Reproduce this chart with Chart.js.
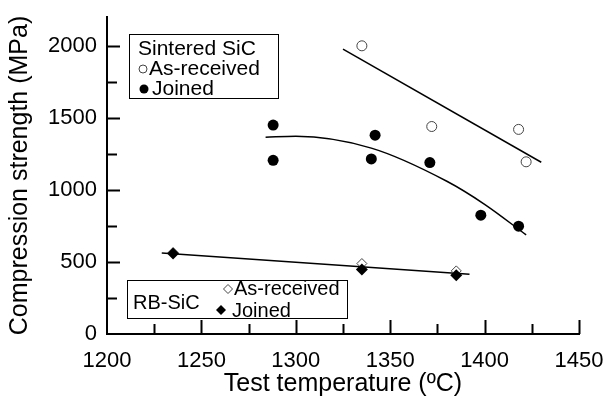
<!DOCTYPE html>
<html>
<head>
<meta charset="utf-8">
<script src="https://cdn.jsdelivr.net/npm/chart.js@4.4.1/dist/chart.umd.min.js"></script>
<style>
  html, body { margin: 0; padding: 0; background: #fff; }
  canvas { display: block; }
</style>
</head>
<body>
<canvas id="chart" width="606" height="399"></canvas>
<script>
// Sintered SiC
const sinteredArTemp = [1335, 1372, 1418, 1422];
const sinteredArStrength = [2000, 1440, 1420, 1195];
const sinteredJnTemp = [1288, 1288, 1340, 1342, 1371, 1398, 1418];
const sinteredJnStrength = [1205, 1450, 1215, 1380, 1190, 825, 748];

// RB-SiC
const rbTemp = [1235, 1335, 1385];
const rbArStrength = [565, 489, 438];
const rbJnStrength = [558, 448, 408];

// fitted trend lines
const sinteredArFitTemp = [1325, 1430];
const sinteredArFit = [1977, 1192];
const sinteredJnFitTemp = [1284, 1300, 1340, 1380, 1400, 1422];
const sinteredJnFit = [1366, 1372, 1290, 1060, 900, 688];
const rbFitTemp = [1229, 1392];
const rbFit = [563, 415];

const xTicks = [1200, 1250, 1300, 1350, 1400, 1450];
const yTicks = [0, 500, 1000, 1500, 2000];

const FONT = "'Liberation Sans', Arial, sans-serif";

function pts(xs, ys) {
    return xs.map((v, i) => ({x: v, y: ys[i]}));
}

// ticks pointing into the plot, majors longer than minors
const insideTicks = {
    id: 'insideTicks',
    afterDraw(chart) {
        const {ctx, scales: {x, y}} = chart;
        ctx.save();
        ctx.strokeStyle = '#000';
        ctx.lineWidth = 2;
        ctx.beginPath();
        for (let v = 1225; v <= 1450; v += 25) {
            const px = Math.round(x.getPixelForValue(v)) + 0.5;
            const len = xTicks.includes(v) ? 14 : 10;
            ctx.moveTo(px, y.bottom);
            ctx.lineTo(px, y.bottom - len);
        }
        for (let v = 250; v <= 2000; v += 250) {
            const py = Math.round(y.getPixelForValue(v)) + 0.5;
            const len = yTicks.includes(v) ? 13 : 10;
            ctx.moveTo(x.left, py);
            ctx.lineTo(x.left + len, py);
        }
        ctx.stroke();
        ctx.restore();
    }
};

// the two boxed legends of the original figure
const boxLegends = {
    id: 'boxLegends',
    afterDraw(chart) {
        const ctx = chart.ctx;
        ctx.save();
        ctx.lineWidth = 1;
        ctx.strokeStyle = '#000';
        ctx.fillStyle = '#000';
        ctx.textBaseline = 'middle';
        ctx.textAlign = 'left';

        // Sintered SiC
        ctx.strokeRect(129.5, 34.5, 149, 64);
        ctx.font = "21px " + FONT;
        ctx.fillText('Sintered SiC', 138, 49);
        ctx.fillText('As-received', 149, 69);
        ctx.fillText('Joined', 152, 89);
        ctx.beginPath();
        ctx.arc(143, 69, 4, 0, Math.PI * 2);
        ctx.fillStyle = '#fff';
        ctx.fill();
        ctx.strokeStyle = '#444';
        ctx.stroke();
        ctx.beginPath();
        ctx.arc(144, 89, 4.5, 0, Math.PI * 2);
        ctx.fillStyle = '#000';
        ctx.fill();

        // RB-SiC
        ctx.strokeStyle = '#000';
        ctx.strokeRect(127.5, 280.5, 220, 38);
        ctx.font = "20px " + FONT;
        ctx.fillStyle = '#000';
        ctx.fillText('RB-SiC', 133, 303);
        ctx.fillText('As-received', 234, 289);
        ctx.fillText('Joined', 232, 311);
        ctx.beginPath();
        ctx.moveTo(228, 284.5); ctx.lineTo(232.5, 289); ctx.lineTo(228, 293.5); ctx.lineTo(223.5, 289);
        ctx.closePath();
        ctx.fillStyle = '#fff';
        ctx.fill();
        ctx.strokeStyle = '#444';
        ctx.stroke();
        ctx.beginPath();
        ctx.moveTo(221, 305); ctx.lineTo(226, 310); ctx.lineTo(221, 315); ctx.lineTo(216, 310);
        ctx.closePath();
        ctx.fillStyle = '#000';
        ctx.fill();
        ctx.restore();
    }
};

const ctx = document.getElementById('chart');
new Chart(ctx, {
    type: 'scatter',
    data: {
        datasets: [
            {
                data: pts(sinteredJnTemp, sinteredJnStrength),
                pointStyle: 'circle', pointRadius: 5.5,
                backgroundColor: '#000', borderColor: '#000', borderWidth: 0
            },
            {
                data: pts(sinteredArTemp, sinteredArStrength),
                pointStyle: 'circle', pointRadius: 5,
                backgroundColor: '#fff', borderColor: '#444', borderWidth: 1
            },
            {
                data: pts(rbTemp, rbJnStrength),
                pointStyle: 'rectRot', pointRadius: 6,
                backgroundColor: '#000', borderColor: '#000', borderWidth: 0
            },
            {
                data: pts(rbTemp, rbArStrength),
                pointStyle: 'rectRot', pointRadius: 5,
                backgroundColor: '#fff', borderColor: '#444', borderWidth: 1
            },
            {
                data: pts(sinteredArFitTemp, sinteredArFit),
                showLine: true, pointRadius: 0, borderColor: '#000', borderWidth: 1.5
            },
            {
                data: pts(sinteredJnFitTemp, sinteredJnFit),
                showLine: true, pointRadius: 0, borderColor: '#000', borderWidth: 1.5,
                cubicInterpolationMode: 'monotone'
            },
            {
                data: pts(rbFitTemp, rbFit),
                showLine: true, pointRadius: 0, borderColor: '#000', borderWidth: 1.5
            }
        ]
    },
    options: {
        responsive: false,
        animation: false,
        layout: { padding: { top: 17, right: 27, left: 0, bottom: 0 } },
        plugins: { legend: { display: false }, tooltip: { enabled: false } },
        scales: {
            x: {
                type: 'linear', min: 1200, max: 1450,
                afterFit(scale) {
                    scale.height = 65;
                    scale.paddingLeft = 0;
                    scale.paddingRight = 0;
                },
                afterBuildTicks(scale) { scale.ticks = xTicks.map(v => ({value: v})); },
                grid: { display: false, drawTicks: false },
                border: { display: true, color: '#000', width: 2 },
                ticks: {
                    color: '#000', padding: 14, maxRotation: 0,
                    font: { family: FONT, size: 22 },
                    callback: v => String(v)
                },
                title: {
                    display: true, text: 'Test temperature (ºC)', color: '#000',
                    padding: { top: 0, bottom: 0 }, font: { family: FONT, size: 25 }
                }
            },
            y: {
                type: 'linear', min: 0, max: 2200,
                afterFit(scale) {
                    scale.width = 107;
                    scale.paddingTop = 0;
                    scale.paddingBottom = 0;
                },
                afterBuildTicks(scale) { scale.ticks = yTicks.map(v => ({value: v})); },
                grid: { display: false, drawTicks: false },
                border: { display: true, color: '#000', width: 2 },
                ticks: {
                    color: '#000', padding: 10,
                    font: { family: FONT, size: 22 },
                    callback: v => String(v)
                },
                title: {
                    display: true, text: 'Compression strength (MPa)', color: '#000',
                    padding: { top: 5, bottom: 0 }, font: { family: FONT, size: 25 }
                }
            }
        }
    },
    plugins: [insideTicks, boxLegends]
});
</script>
</body>
</html>
